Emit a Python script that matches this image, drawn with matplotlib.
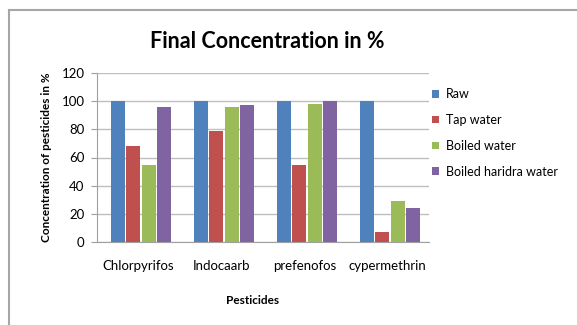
import matplotlib
matplotlib.use("Agg")
import matplotlib.pyplot as plt
from matplotlib.lines import Line2D
import numpy as np

categories = ["Chlorpyrifos", "Indocaarb", "prefenofos", "cypermethrin"]
series_names = ["Raw", "Tap water", "Boiled water", "Boiled haridra water"]
raw = [100, 100, 100, 100]
tap_water = [68, 79, 55, 7]
boiled_water = [55, 96, 98, 29]
boiled_haridra = [96, 97, 100, 24]
yticks = [0, 20, 40, 60, 80, 100, 120]

colors = ["#4F81BD", "#C0504D", "#9BBB59", "#8064A2"]
font = ["Lato", "DejaVu Sans"]

fig = plt.figure(figsize=(5.77, 3.25), dpi=100)
ax = fig.add_axes([97/577, 1-242/325, (429-97)/577, (242-73)/325])

x = np.arange(len(categories))
w = 0.168
step = 0.182
all_series = [raw, tap_water, boiled_water, boiled_haridra]
for i, (vals, name, c) in enumerate(zip(all_series, series_names, colors)):
    ax.bar(x + (i - 1.5) * step + 0.03, vals, width=w, color=c, label=name, zorder=3)

ax.set_xlim(-0.5, len(categories) - 0.5)
ax.set_ylim(0, 120)
ax.set_yticks(yticks)
ax.set_yticklabels([str(t) for t in yticks], fontsize=9.5, family=font)
ax.set_xticks(x)
ax.set_xticklabels(categories, fontsize=9.5, family=font)
ax.yaxis.grid(True, color="#BFBFBF", linewidth=1, zorder=0)
for s in ["top", "right"]:
    ax.spines[s].set_visible(False)
ax.spines["left"].set_color("#A0A0A0")
ax.spines["bottom"].set_color("#A0A0A0")
ax.tick_params(axis="y", length=4, color="#A0A0A0", pad=5)
ax.tick_params(axis="x", length=0, pad=13)

ax.set_ylabel("Concentration of pesticides in %", fontsize=8.5, family=font, fontweight="bold", labelpad=7)

fig.text(253/577, 1-300/325, "Pesticides", ha="center", va="center",
         fontsize=8.5, fontweight="bold", family=font)
fig.text(267/577, 1-42/325, "Final Concentration in %", ha="center", va="center",
         fontsize=15.5, fontweight="bold", family=font)

leg = fig.legend(loc="upper left", bbox_to_anchor=(421/577, 1-77/325), frameon=False,
                 prop={"family": font, "size": 9}, handlelength=0.55, handleheight=0.55,
                 handletextpad=0.55, labelspacing=1.1)

fig.add_artist(Line2D([9/577, 9/577], [0, 1-10/325], transform=fig.transFigure,
                      color="#A6A6A6", linewidth=1.5))
fig.add_artist(Line2D([9/577, 1], [1-10/325, 1-10/325], transform=fig.transFigure,
                      color="#A6A6A6", linewidth=1.5))

fig.savefig("out.png", dpi=100)
